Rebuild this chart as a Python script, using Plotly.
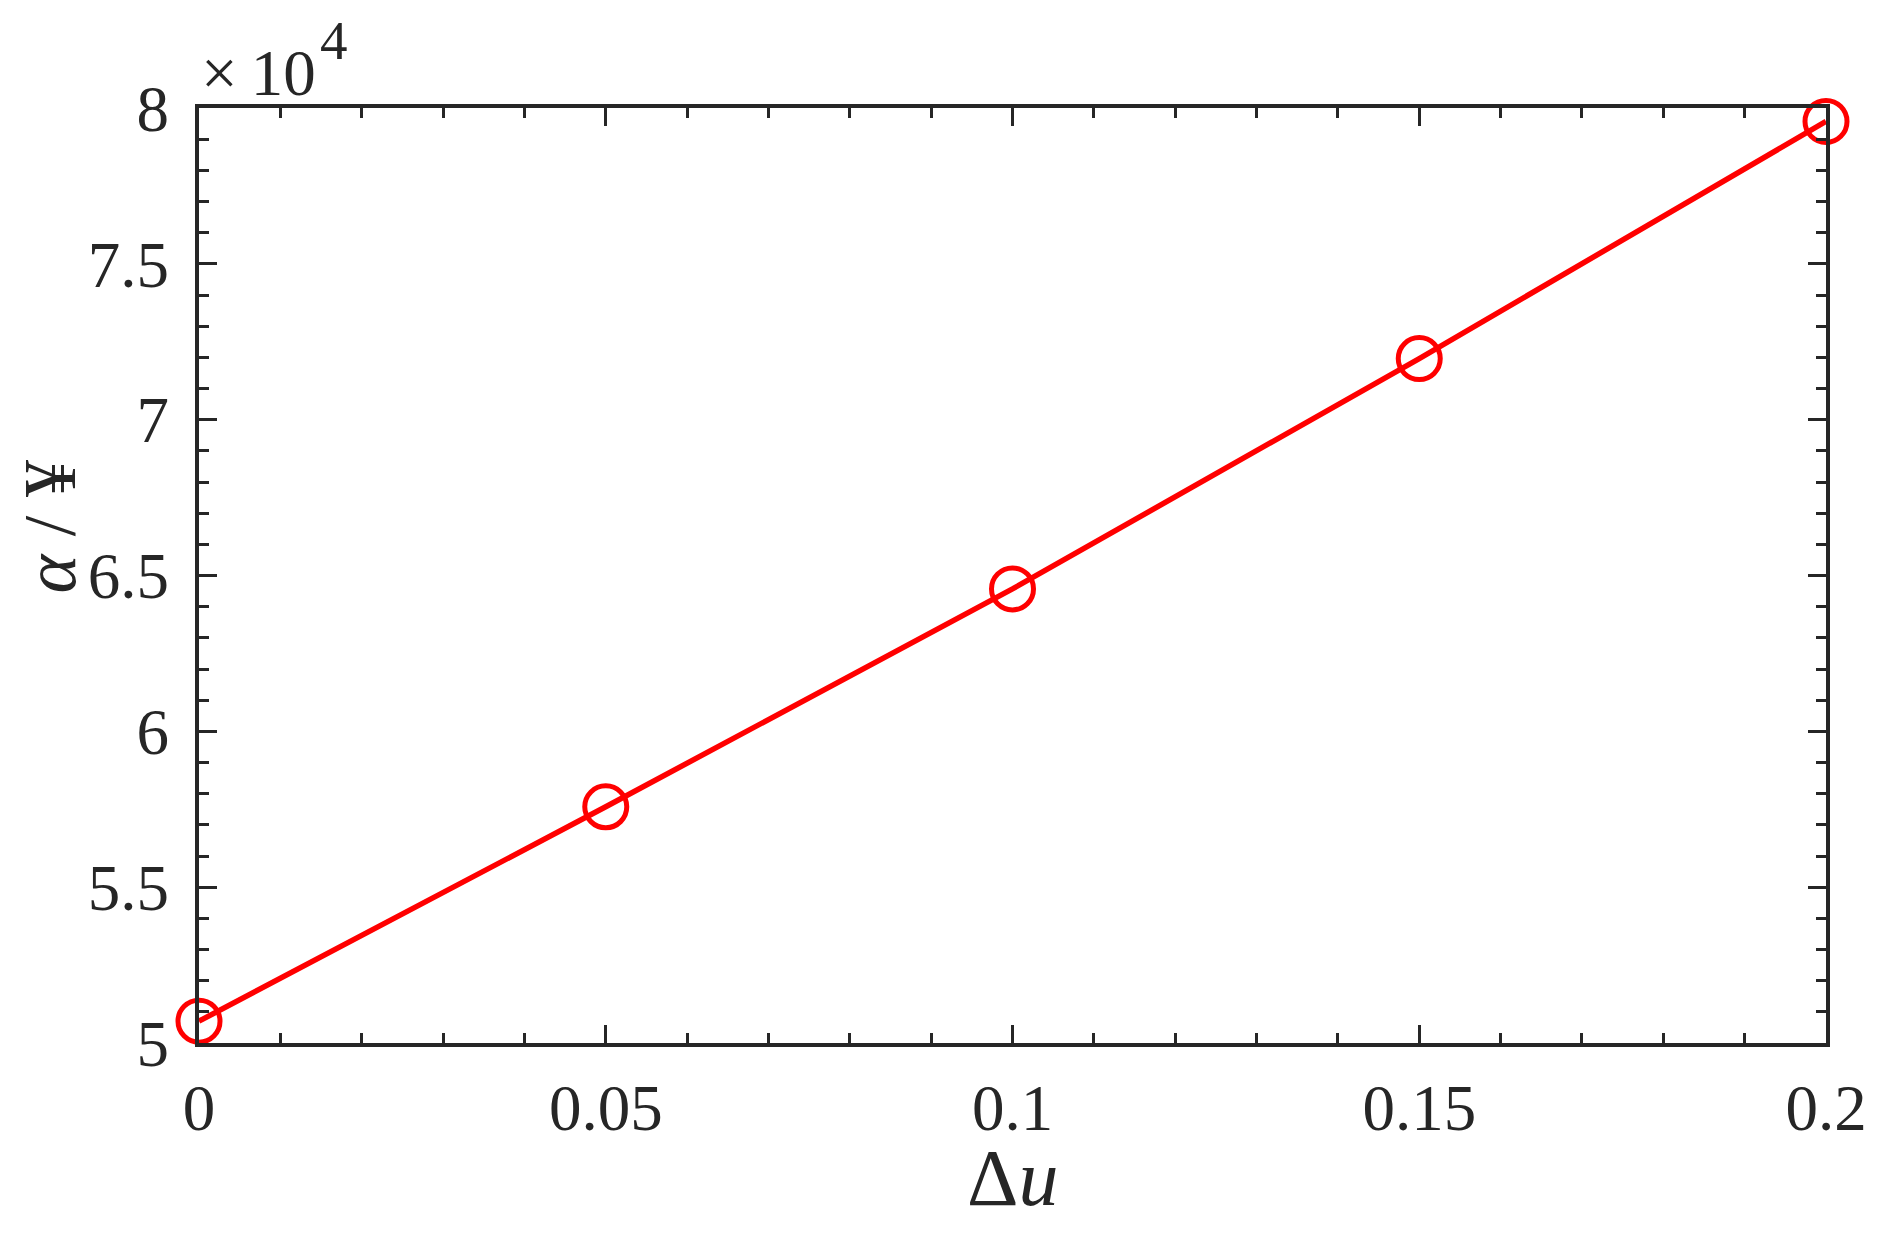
import plotly.graph_objects as go

# Data
delta_u = [0, 0.05, 0.1, 0.15, 0.2]
alpha_over_yen = [50700, 57580, 64570, 71960, 79570]

x_tick_vals = [0, 0.05, 0.1, 0.15, 0.2]
x_tick_text = ["0", "0.05", "0.1", "0.15", "0.2"]
y_tick_vals = [50000, 55000, 60000, 65000, 70000, 75000, 80000]
y_tick_text = ["5", "5.5", "6", "6.5", "7", "7.5", "8"]

FONT = "Liberation Serif, Times New Roman, serif"
AX = "#262626"
RED = "#ff0000"

fig = go.Figure()
fig.add_trace(go.Scatter(
    x=delta_u, y=alpha_over_yen, mode="lines+markers",
    line=dict(color=RED, width=5.5),
    marker=dict(symbol="circle-open", size=42, color=RED, line=dict(width=5, color=RED)),
    cliponaxis=False, showlegend=False,
))

axis_common = dict(
    showline=True, linecolor=AX, linewidth=4, mirror="allticks",
    ticks="inside", ticklen=18, tickwidth=3, tickcolor=AX,
    showgrid=False, zeroline=False,
    tickfont=dict(family=FONT, size=65, color=AX),
)

fig.update_xaxes(
    range=[0, 0.2], tickvals=x_tick_vals, ticktext=x_tick_text,
    minor=dict(dtick=0.01, tick0=0, ticklen=10, tickwidth=3, tickcolor=AX, ticks="inside"),
    ticklabelstandoff=5,
    **axis_common,
)
fig.update_yaxes(
    range=[50000, 80000], tickvals=y_tick_vals, ticktext=y_tick_text,
    minor=dict(dtick=1000, tick0=50000, ticklen=10, tickwidth=3, tickcolor=AX, ticks="inside"),
    ticklabelstandoff=13,
    **axis_common,
)

fig.add_annotation(
    text="×\u200910", xref="paper", yref="paper", x=0.0, y=1.0,
    xanchor="left", yanchor="bottom", showarrow=False, xshift=0, yshift=-3,
    font=dict(family=FONT, size=65, color=AX),
)
fig.add_annotation(
    text="4", xref="paper", yref="paper", x=0.0, y=1.0,
    xanchor="left", yanchor="bottom", showarrow=False, xshift=119, yshift=35,
    font=dict(family=FONT, size=55, color=AX),
)
fig.add_annotation(
    text="Δ<i>u</i>", xref="paper", yref="paper", x=0.5, y=0,
    xanchor="center", yanchor="middle", showarrow=False, yshift=-135,
    font=dict(family=FONT, size=80, color=AX),
)
fig.add_annotation(
    text="<i>α</i> / ¥", xref="paper", yref="paper", x=0, y=0.5,
    xanchor="center", yanchor="middle", showarrow=False, xshift=-150, yshift=48,
    textangle=-90,
    font=dict(family=FONT, size=74, color=AX),
)

fig.update_layout(
    width=1888, height=1236,
    margin=dict(l=191, r=70, t=100, b=201),
    paper_bgcolor="white", plot_bgcolor="white",
)

fig.write_html("out.html")
